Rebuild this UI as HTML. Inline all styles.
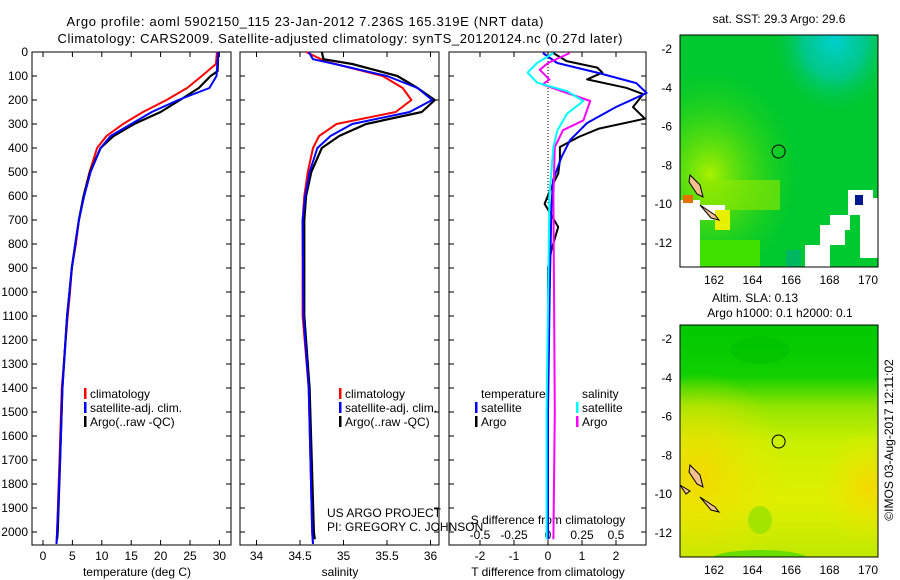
<!DOCTYPE html>
<html><head><meta charset="utf-8"><style>
html,body{margin:0;padding:0;background:#fff;}
svg{display:block;font-family:"Liberation Sans",sans-serif;}
text{font-size:12px;fill:#000;}
</style></head><body>
<svg id="c" width="900" height="580" viewBox="0 0 900 580" xmlns="http://www.w3.org/2000/svg">
<defs>
<radialGradient id="cy1" cx="0.78" cy="0.02" r="0.32"><stop offset="0" stop-color="#00d0d0"/><stop offset="0.5" stop-color="#00c8a0" stop-opacity="0.8"/><stop offset="1" stop-color="#00c840" stop-opacity="0"/></radialGradient>
<radialGradient id="yl1" cx="0.15" cy="0.6" r="0.45"><stop offset="0" stop-color="#a8f000"/><stop offset="1" stop-color="#30d800" stop-opacity="0"/></radialGradient>
<linearGradient id="g2" x1="0" y1="0" x2="0" y2="1"><stop offset="0" stop-color="#00c800"/><stop offset="0.22" stop-color="#10d000"/><stop offset="0.35" stop-color="#90e400"/><stop offset="0.5" stop-color="#c8f000"/><stop offset="0.75" stop-color="#e0f000"/><stop offset="1" stop-color="#c0e800"/></linearGradient>
<radialGradient id="or2" cx="0.1" cy="0.65" r="0.45"><stop offset="0" stop-color="#f4d800"/><stop offset="1" stop-color="#e8e800" stop-opacity="0"/></radialGradient>
<radialGradient id="or3" cx="0.95" cy="0.7" r="0.25"><stop offset="0" stop-color="#f4d800"/><stop offset="1" stop-color="#e8e800" stop-opacity="0"/></radialGradient>
<clipPath id="m1"><rect x="680" y="35" width="198" height="232"/></clipPath>
<clipPath id="m2"><rect x="680" y="325" width="198" height="232"/></clipPath>
</defs>
<text x="305" y="26" text-anchor="middle" textLength="477" style="font-size:13px">Argo profile: aoml 5902150_115 23-Jan-2012 7.236S 165.319E (NRT data)</text>
<text x="340" y="43" text-anchor="middle" textLength="565" style="font-size:13px">Climatology: CARS2009. Satellite-adjusted climatology: synTS_20120124.nc (0.27d later)</text>
<g id="axes"></g>
<g id="series"></g>
<g>
<text x="779" y="23" text-anchor="middle">sat. SST: 29.3 Argo: 29.6</text>
<g clip-path="url(#m1)">
<rect x="680" y="35" width="198" height="232" fill="#00c830"/>
<rect x="680" y="35" width="198" height="232" fill="url(#cy1)"/>
<rect x="680" y="35" width="198" height="232" fill="url(#yl1)"/>
<rect x="700" y="180" width="80" height="30" fill="#90e800" opacity="0.6"/>
<rect x="680" y="200" width="20" height="80" fill="#fff"/>
<rect x="695" y="205" width="30" height="15" fill="#fff"/>
<rect x="715" y="210" width="15" height="20" fill="#e8f000"/>
<rect x="700" y="240" width="60" height="30" fill="#40e000"/>
<rect x="820" y="225" width="25" height="20" fill="#fff"/>
<rect x="830" y="215" width="20" height="15" fill="#fff"/>
<rect x="805" y="245" width="25" height="22" fill="#fff"/>
<rect x="860" y="198" width="18" height="60" fill="#fff"/>
<rect x="848" y="190" width="25" height="25" fill="#fff"/>
<rect x="855" y="195" width="8" height="10" fill="#001890"/>
<rect x="786" y="250" width="15" height="17" fill="#00b860"/>
<rect x="683" y="195" width="10" height="8" fill="#e87000"/>
<path d="M690 175 l10 10 l3 12 l-6 -3 l-8 -12z M700 205 l15 10 l4 5 l-8 -2z" fill="#f4c090" stroke="#000"/>
</g>
<rect x="680" y="35" width="198" height="232" fill="none" stroke="#000"/>
<circle cx="778.6" cy="151.5" r="6.5" fill="none" stroke="#000"/>
</g>
<g>
<text x="755" y="302" text-anchor="middle">Altim. SLA: 0.13</text>
<text x="780" y="317" text-anchor="middle">Argo h1000: 0.1 h2000: 0.1</text>
<g clip-path="url(#m2)">
<rect x="680" y="325" width="198" height="232" fill="url(#g2)"/>
<rect x="680" y="325" width="198" height="232" fill="url(#or2)"/>
<rect x="680" y="325" width="198" height="232" fill="url(#or3)"/>
<ellipse cx="760" cy="350" rx="30" ry="14" fill="#00c000" opacity="0.6"/>
<ellipse cx="760" cy="520" rx="12" ry="14" fill="#80e000" opacity="0.6"/>
<ellipse cx="760" cy="560" rx="50" ry="10" fill="#40d800" opacity="0.7"/>
<path d="M690 465 l10 10 l3 12 l-6 -3 l-8 -12z M700 497 l15 10 l4 5 l-8 -2z M680 485 l10 6 l-4 3z" fill="#f4c090" stroke="#000"/>
</g>
<rect x="680" y="325" width="198" height="232" fill="none" stroke="#000"/>
<circle cx="778.6" cy="441.5" r="6.5" fill="none" stroke="#000"/>
<text transform="translate(893,440) rotate(-90)" text-anchor="middle">©IMOS 03-Aug-2017 12:11:02</text>
</g>
</svg>
<script>
// ---- data ----
const depthTicks = [0,100,200,300,400,500,600,700,800,900,1000,1100,1200,1300,1400,1500,1600,1700,1800,1900,2000];
const tempTicks = [0,5,10,15,20,25,30];
const salTicks = [34,34.5,35,35.5,36];
const tdiffTicks = [-2,-1,0,1,2];
const sdiffTicks = [-0.5,-0.25,0,0.25,0.5];
const latTicks = [-2,-4,-6,-8,-10,-12];
const lonTicks = [162,164,166,168,170];

const tClimDepth = [0,50,100,150,200,250,300,350,400,500,600,700,800,900,1000,1100,1400,1700,2000,2050];
const tClim = [29.6,29.4,27.0,24.5,21,17,13.6,10.8,9.2,7.9,6.9,6.1,5.6,4.9,4.6,4.2,3.2,2.8,2.4,2.3];
const tSatDepth = [0,100,150,200,250,300,350,400,500,600,700,800,900,1000,1100,1400,1700,2000,2050];
const tSat = [29.8,29.5,28.3,23,18.5,15,11.5,9.8,8.1,7.0,6.1,5.5,4.9,4.5,4.1,3.3,2.9,2.4,2.3];
const tArgoDepth = [0,80,100,150,200,250,300,350,400,500,600,700,800,900,1000,1100,1400,1700,2000,2030];
const tArgo = [29.8,29.7,28.5,26.5,23.3,20,15.5,12,9.8,8.0,6.9,6.1,5.5,4.9,4.5,4.1,3.3,2.9,2.5,2.4];

const sClimDepth = [0,40,100,150,200,250,300,350,400,500,600,700,1100,1400,2000,2050];
const sClim = [34.57,34.8,35.45,35.68,35.78,35.6,34.92,34.72,34.65,34.59,34.55,34.53,34.53,34.6,34.64,34.65];
const sSatDepth = [0,30,50,100,150,200,250,300,350,400,500,600,700,1100,1400,2000,2050];
const sSat = [34.6,34.65,34.9,35.5,35.85,36.02,35.76,35.1,34.85,34.7,34.61,34.56,34.53,34.54,34.6,34.64,34.65];
const sArgoDepth = [0,30,50,100,150,200,250,300,350,400,500,600,700,1100,1400,2000,2030];
const sArgo = [34.75,34.77,35.1,35.62,35.85,36.05,35.9,35.26,34.95,34.75,34.63,34.57,34.55,34.55,34.61,34.66,34.67];

const dTSatDepth = [4,46,88,130,171,229,296,367,437,533,645,1000,1500,2030];
const dTSat = [-0.15,0.27,1.5,2.6,2.9,2.0,1.15,0.65,0.4,0.15,0.1,0.05,0.0,0.0];
const dTArgoDepth = [4,38,65,86,114,149,176,229,278,319,354,396,451,507,563,632,729,826,900,1400,2030];
const dTArgo = [0.15,0.55,1.45,1.6,1.15,2.3,2.8,2.5,2.85,1.5,0.9,0.35,0.35,0.3,0.1,-0.1,0.3,0.1,0.0,0.0,0.0];
const dSSatDepth = [4,46,86,128,163,204,257,326,396,600,1500,2030];
const dSSat = [0.04,-0.08,-0.15,-0.08,0.14,0.26,0.14,0.07,0.04,0.01,-0.01,-0.01];
const dSArgoDepth = [4,46,74,114,135,171,204,285,326,396,600,1500,2030];
const dSArgo = [0.16,0.0,-0.06,0.01,-0.04,0.14,0.31,0.26,0.11,0.05,0.04,0.05,0.04];

// ---- layout / scales ----
const NS='http://www.w3.org/2000/svg';
const TOP=52, BOT=545;
const yD = d => TOP + d*0.24;
const xT = v => 43 + 5.88*v;
const xS = v => 300 + 87*(v-34.5);
const xDT = v => 548 + 34*v;
const xDS = v => 548 + 136*v;
const mapX = lon => 714 + 19.25*(lon-162);
const mapY1 = lat => 49 + 19.4*(-2-lat);
const mapY2 = lat => 339 + 19.4*(-2-lat);
const axes=document.getElementById('axes'), series=document.getElementById('series');
function el(tag, attrs, parent, txt){const e=document.createElementNS(NS,tag);for(const k in attrs)e.setAttribute(k,attrs[k]);if(txt!==undefined)e.textContent=txt;(parent||axes).appendChild(e);return e;}

const panels=[{x0:32,x1:231,name:'temperature'},{x0:240,x1:439,name:'salinity'},{x0:449,x1:646,name:'difference'}];
panels.forEach(p=>{
  const r=el('rect',{x:p.x0,y:TOP,width:p.x1-p.x0,height:BOT-TOP,fill:'none',stroke:'#000'});
  
  
  depthTicks.forEach(d=>{
    el('line',{x1:p.x0,x2:p.x0+5,y1:yD(d),y2:yD(d),stroke:'#000'});
    el('line',{x1:p.x1,x2:p.x1-5,y1:yD(d),y2:yD(d),stroke:'#000'});
  });
});
depthTicks.forEach(d=>{
  const t=el('text',{x:28,y:yD(d)+4,'text-anchor':'end'},axes,String(d));
  
  
});
function xticks(ticks,fx,p,ly,top,bottom){
  ticks.forEach(v=>{
    const x=fx(v);
    if(bottom){el('line',{x1:x,x2:x,y1:BOT,y2:BOT-5,stroke:'#000'});}
    if(top){el('line',{x1:x,x2:x,y1:TOP,y2:TOP+5,stroke:'#000'});}
    const t=el('text',{x:x,y:ly,'text-anchor':'middle'},axes,String(v));
    
    
  });
}
xticks(tempTicks,xT,'temperature',560,true,true);
xticks(salTicks,xS,'salinity',560,true,true);
xticks(tdiffTicks,xDT,'tdiff',560,true,true);
xticks(sdiffTicks,xDS,'sdiff',539,false,false);
[['temperature (deg C)',137,'temperature-axis-title'],['salinity',340,'salinity-axis-title'],['T difference from climatology',548,'tdiff-axis-title']].forEach(a=>{
  const t=el('text',{x:a[1],y:576,'text-anchor':'middle'},axes,a[0]);
  
  
});
let st=el('text',{x:548,y:524,'text-anchor':'middle'},axes,'S difference from climatology');


let u1=el('text',{x:327,y:517},axes,'US ARGO PROJECT');


let u2=el('text',{x:327,y:531},axes,'PI: GREGORY C. JOHNSON');


el('line',{x1:548,x2:548,y1:TOP,y2:205,stroke:'#000','stroke-dasharray':'1,2'});

function line(xs,ds,fx,color,name,w){
  const pts=xs.map((v,i)=>fx(v).toFixed(1)+','+yD(ds[i]).toFixed(1)).join(' ');
  const pl=el('polyline',{points:pts,fill:'none',stroke:color,'stroke-width':w||2,'stroke-linejoin':'round'},series);
  
  
}
line(tClim,tClimDepth,xT,'#f00','temp-climatology-line');
line(tArgo,tArgoDepth,xT,'#000','temp-argo-line',2.2);
line(tSat,tSatDepth,xT,'#00f','temp-satellite-line');
line(sClim,sClimDepth,xS,'#f00','sal-climatology-line');
line(sArgo,sArgoDepth,xS,'#000','sal-argo-line',2.2);
line(sSat,sSatDepth,xS,'#00f','sal-satellite-line');
line(dTArgo,dTArgoDepth,xDT,'#000','tdiff-argo-line');
line(dTSat,dTSatDepth,xDT,'#00f','tdiff-satellite-line');
line(dSArgo,dSArgoDepth,xDS,'#f0f','sdiff-argo-line');
line(dSSat,dSSatDepth,xDS,'#0ff','sdiff-satellite-line');

function legend(bx,items,prefix){
  items.forEach((it,i)=>{
    const y=397+14*i;
    if(it[1]) el('rect',{x:bx,y:y-9,width:2.5,height:11,fill:it[1]},series);
    const t=el('text',{x:bx+6,y:y+1},series,it[0]);
    
    
  });
}
legend(84,[['climatology','#f00'],['satellite-adj. clim.','#00f'],['Argo(..raw -QC)','#000']],'temperature');
legend(339,[['climatology','#f00'],['satellite-adj. clim.','#00f'],['Argo(..raw -QC)','#000']],'salinity');
legend(475,[['temperature',null],['satellite','#00f'],['Argo','#000']],'tdiff');
legend(576,[['salinity',null],['satellite','#0ff'],['Argo','#f0f']],'sdiff');

// map axes
[[35,267,mapY1,'sst'],[325,557,mapY2,'sla']].forEach(m=>{
  latTicks.forEach(lat=>{
    const y=m[2](lat);
    el('line',{x1:680,x2:684,y1:y,y2:y,stroke:'#000'});
    el('line',{x1:878,x2:874,y1:y,y2:y,stroke:'#000'});
    const t=el('text',{x:672,y:y+4,'text-anchor':'end'},axes,String(lat));
    
    
  });
  lonTicks.forEach(lon=>{
    const x=mapX(lon);
    el('line',{x1:x,x2:x,y1:m[0],y2:m[0]+4,stroke:'#000'});
    el('line',{x1:x,x2:x,y1:m[1],y2:m[1]-4,stroke:'#000'});
    const t=el('text',{x:x,y:m[1]+17,'text-anchor':'middle'},axes,String(lon));
    
    
  });
});
</script>
</body></html>
